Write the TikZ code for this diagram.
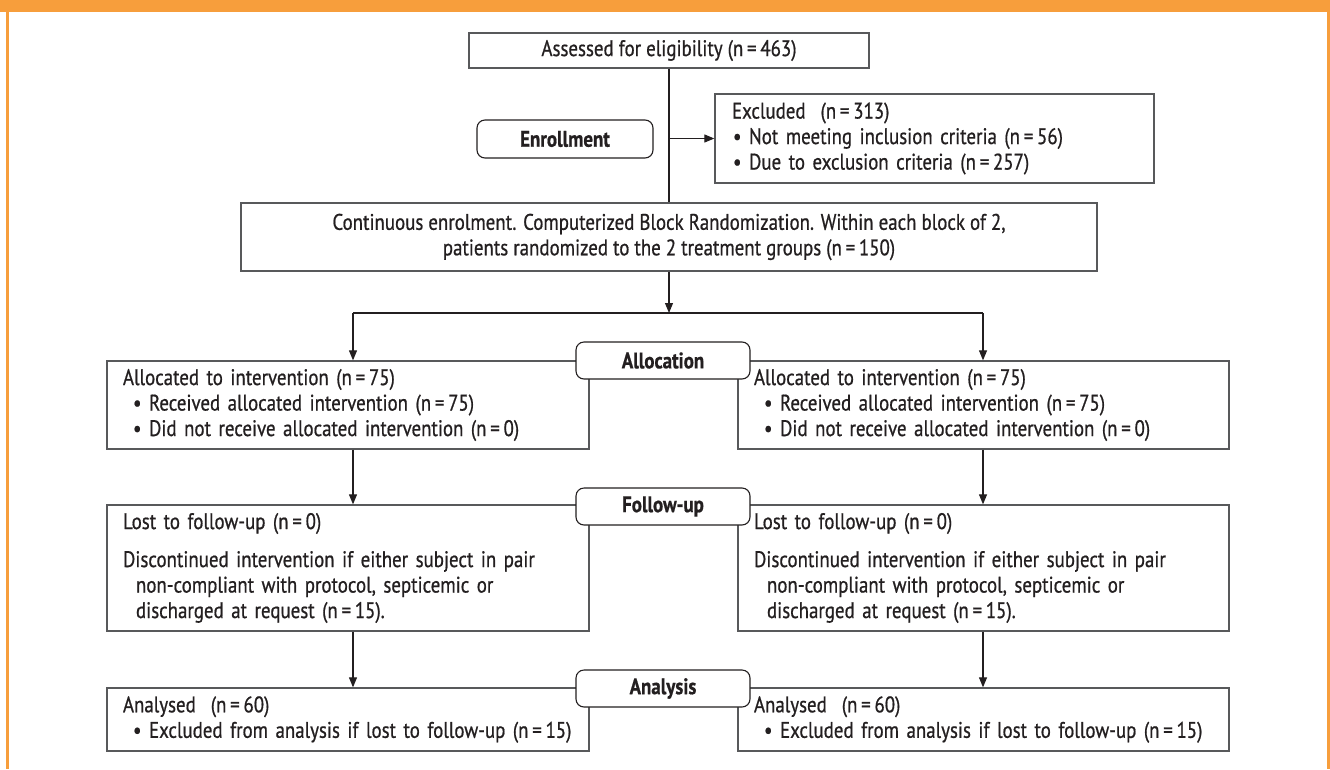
\documentclass[tikz,border=0pt]{standalone}
\usepackage{fontspec}
\setmainfont{PT Sans}[FakeStretch=0.84, FakeBold=0.7]
\usetikzlibrary{arrows.meta}
\definecolor{orng}{HTML}{F79E3C}
\definecolor{ink}{HTML}{231F20}
\definecolor{edgegray}{HTML}{58595B}
\newcommand{\nval}[1]{(n\,=\,#1)}
\newcommand{\bul}{\hspace*{10pt}•\ }
\begin{document}
\begin{tikzpicture}[x=1pt,y=-1pt,
  font=\fontsize{22.5}{25.5}\selectfont, text=ink,
  box/.style={draw=edgegray, line width=1.3pt, fill=white, inner xsep=16pt, inner ysep=0pt},
  lbox/.style={box, align=left},
  lab/.style={draw=ink, line width=1.1pt, rounded corners=8pt, fill=white, inner sep=0pt,
    font=\fontsize{22.5}{25.5}\selectfont\bfseries, minimum width=174pt, minimum height=37pt},
  arr/.style={draw=ink, line width=1.1pt, -{Triangle[length=10pt,width=8pt]}},
  con/.style={draw=ink, line width=1.1pt}]
\useasboundingbox (0,0) rectangle (1330,769);
% frame
\fill[orng] (0,0) rectangle (1330,12);
\fill[orng] (6,0) rectangle (8.5,769);
\fill[orng] (1326.5,0) rectangle (1329.5,769);
% top part
\node[box, align=center, minimum width=400pt, minimum height=35pt] (assess) at (669,50.5)
  {Assessed for eligibility \nval{463}};
\node[lbox, minimum width=439pt, minimum height=89pt, text width=405pt, inner xsep=17pt] (excl) at (934.5,138.5)
  {Excluded\ \ \nval{313}\\
   \hspace*{1pt}•\ Not meeting inclusion criteria \nval{56}\\
   \hspace*{1pt}•\ Due to exclusion criteria \nval{257}};
\node[lab, minimum width=176pt, minimum height=38pt] (enrol) at (565,139) {Enrollment};
\node[box, align=center, minimum width=856pt, minimum height=68pt] (rand) at (669,237)
  {Continuous enrolment. Computerized Block Randomization. Within each block of 2,\\
   patients randomized to the 2 treatment groups \nval{150}};
% allocation
\node[lbox, minimum width=482pt, minimum height=88pt, text width=450pt] (allocL) at (348,405)
  {Allocated to intervention \nval{75}\\
   \bul Received allocated intervention \nval{75}\\
   \bul Did not receive allocated intervention \nval{0}};
\node[lbox, minimum width=491pt, minimum height=88pt, text width=459pt] (allocR) at (983.5,405)
  {Allocated to intervention \nval{75}\\
   \bul Received allocated intervention \nval{75}\\
   \bul Did not receive allocated intervention \nval{0}};
% follow-up
\node[lbox, minimum width=482pt, minimum height=126pt, text width=450pt] (followL) at (348,568)
  {Lost to follow-up \nval{0}\\[12.5pt]
   Discontinued intervention if either subject in pair\\
   \hspace*{13pt}non-compliant with protocol, septicemic or\\
   \hspace*{13pt}discharged at request \nval{15}.};
\node[lbox, minimum width=491pt, minimum height=126pt, text width=459pt] (followR) at (983.5,568)
  {Lost to follow-up \nval{0}\\[12.5pt]
   Discontinued intervention if either subject in pair\\
   \hspace*{13pt}non-compliant with protocol, septicemic or\\
   \hspace*{13pt}discharged at request \nval{15}.};
% analysis
\node[lbox, minimum width=482pt, minimum height=63pt, text width=450pt] (anaL) at (348,719.5)
  {Analysed\ \ \nval{60}\\
   \bul Excluded from analysis if lost to follow-up \nval{15}};
\node[lbox, minimum width=491pt, minimum height=63pt, text width=459pt] (anaR) at (983.5,719.5)
  {Analysed\ \ \nval{60}\\
   \bul Excluded from analysis if lost to follow-up \nval{15}};
% stage labels
\node[lab] (allocLab) at (663,360.5) {Allocation};
\node[lab] (followLab) at (663,506.5) {Follow-up};
\node[lab] (anaLab) at (663,688.5) {Analysis};
% connectors
\coordinate (jl) at (353,313);
\coordinate (jr) at (983,313);
\draw[con] (assess.south) -- (rand.north);
\draw[arr] (assess.south |- excl.west) -- (excl.west);
\draw[arr] (rand.south) -- (rand.south |- jl);
\draw[con] (jl) -- (jr);
\draw[arr] (jl) -- (jl |- allocL.north);
\draw[arr] (jr) -- (jr |- allocR.north);
\draw[arr] (jl |- allocL.south) -- (jl |- followL.north);
\draw[arr] (jr |- allocR.south) -- (jr |- followR.north);
\draw[arr] (jl |- followL.south) -- (jl |- anaL.north);
\draw[arr] (jr |- followR.south) -- (jr |- anaR.north);
\end{tikzpicture}
\end{document}
